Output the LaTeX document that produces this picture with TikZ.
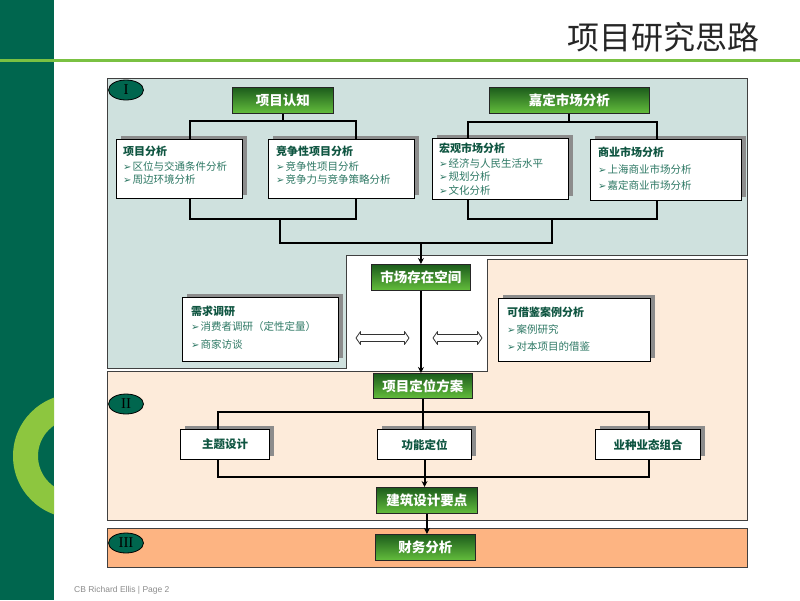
\documentclass[tikz,border=0pt]{standalone}
\usepackage{fontspec}
\setmainfont{Noto Sans CJK SC}
\newfontfamily\symf{DejaVu Sans}
\newfontfamily\latf{Liberation Sans}
\newfontfamily\romf{Liberation Serif}
\usetikzlibrary{arrows.meta,shapes.geometric,shadows}
\definecolor{bandc}{RGB}{0,102,78}
\definecolor{ringc}{RGB}{141,198,63}
\definecolor{linec}{RGB}{122,193,66}
\definecolor{pI}{RGB}{207,225,222}
\definecolor{pII}{RGB}{253,235,218}
\definecolor{pIII}{RGB}{253,180,130}
\definecolor{gdark}{RGB}{28,92,28}
\definecolor{glight}{RGB}{100,190,60}
\definecolor{ttl}{RGB}{15,85,65}
\definecolor{itm}{RGB}{45,120,100}
\newcommand\itmbul{{\symf\fontsize{10}{10}\selectfont ➢}\hspace{1pt}}
\newcommand\hollowdarrow[2]{% #1 left x, #2 right x, at y=338
  \filldraw[darr] (#1,338) -- (#1+4.5,331.5) -- (#1+4.5,334.5) -- (#2-4.5,334.5) -- (#2-4.5,331.5)
   -- (#2,338) -- (#2-4.5,344.5) -- (#2-4.5,341.5) -- (#1+4.5,341.5) -- (#1+4.5,344.5) -- cycle;}
\tikzset{
  panel/.style={draw=black!75, line width=0.9pt},
  gbox/.style={draw=black!85, line width=0.9pt, top color=gdark, bottom color=glight,
    text=white, font=\bfseries\fontsize{13.5}{13.5}\selectfont, inner sep=0, anchor=north west},
  wbox/.style={draw=black, line width=1.1pt, fill=white, inner sep=0, anchor=north west,
    drop shadow={shadow xshift=4pt, shadow yshift=4pt, fill=black!45, opacity=1}},
  wtxt/.style={font=\bfseries\fontsize{11.5}{11.5}\selectfont, text=ttl},
  ttxt/.style={font=\bfseries\fontsize{11}{11}\selectfont, text=ttl, anchor=west, inner sep=0},
  itxt/.style={font=\fontsize{10.5}{10.5}\selectfont, text=itm, anchor=west, inner sep=0},
  oval/.style={ellipse, draw=black, line width=0.8pt, fill=bandc, minimum width=35pt,
    minimum height=20pt, inner sep=0, font=\romf\fontsize{15}{15}\selectfont},
  conn/.style={line width=2pt, black},
  thinc/.style={line width=1.2pt, black},
  arr/.style={-{Stealth[length=6pt,width=6pt]}},
  darr/.style={draw=black!80, fill=white, line width=0.8pt, line join=round}
}
\begin{document}
\begin{tikzpicture}[x=1pt,y=-1pt]
\useasboundingbox (0,0) rectangle (800,600);
\fill[white] (0,0) rectangle (800,600);
% left band and ring
\fill[bandc] (0,0) rectangle (54,600);
\begin{scope}
\clip (0,0) rectangle (54,600);
\fill[ringc, even odd rule] (75,456) circle[radius=62] (75,456) circle[radius=37];
\end{scope}
\fill[linec] (0,58.5) rectangle (800,61.5);
\node[anchor=east, font=\fontsize{32}{32}\selectfont, text=black!85, inner sep=0] (title) at (760,37) {项目研究思路};
\node[anchor=west, font=\latf\fontsize{8.5}{8.5}\selectfont, text=black!45, inner sep=0] (foot) at (74,590) {CB Richard Ellis | Page 2};
% panels
\filldraw[panel, fill=pI] (107,78) -- (747,78) -- (747,255) -- (346,255) -- (346,368) -- (107,368) -- cycle;
\filldraw[panel, fill=pII] (487,259) -- (747,259) -- (747,520) -- (107,520) -- (107,371) -- (487,371) -- cycle;
\filldraw[panel, fill=pIII] (107,528) rectangle (747,567);
\node[oval] (o1) at (126,90) {I};
\node[oval] (o2) at (126,404) {II};
\node[oval] (o3) at (126,543) {III};
% green boxes
\node[gbox, minimum width=101pt, minimum height=26pt] (rz) at (232,87) {项目认知};
\node[gbox, minimum width=160pt, minimum height=26pt] (jd) at (489,87) {嘉定市场分析};
\node[gbox, minimum width=99pt, minimum height=26pt] (scz) at (371,264) {市场存在空间};
\node[gbox, minimum width=99pt, minimum height=25pt] (dw) at (373,373) {项目定位方案};
\node[gbox, minimum width=101pt, minimum height=26pt] (jz) at (376,487) {建筑设计要点};
\node[gbox, minimum width=100pt, minimum height=26pt] (cw) at (375,534) {财务分析};
% white boxes
\node[wbox, minimum width=126pt, minimum height=59pt] (b1) at (116,139) {};
\node[wbox, minimum width=146pt, minimum height=59pt] (b2) at (268,139) {};
\node[wbox, minimum width=136pt, minimum height=61pt] (b3) at (432,138) {};
\node[wbox, minimum width=151pt, minimum height=61pt] (b4) at (590,139) {};
\node[wbox, minimum width=156pt, minimum height=64pt] (b5) at (182,297) {};
\node[wbox, minimum width=152pt, minimum height=63pt] (b6) at (498,298) {};
\node[wbox, minimum width=89pt, minimum height=30pt] (b7) at (180,429) {};
\node[wbox, minimum width=94pt, minimum height=30pt] (b8) at (377,429) {};
\node[wbox, minimum width=105pt, minimum height=30pt] (b9) at (595,429) {};
\node[wtxt] (b7t) at (b7.center) {主题设计};
\node[wtxt] (b8t) at (b8.center) {功能定位};
\node[wtxt] (b9t) at (b9.center) {业种业态组合};
% texts in boxes
\node[ttxt] (b1a) at (123,151) {项目分析};
\node[itxt] (b1b) at (123,166) {\itmbul 区位与交通条件分析};
\node[itxt] (b1c) at (123,180) {\itmbul 周边环境分析};
\node[ttxt] (b2a) at (276,151) {竞争性项目分析};
\node[itxt] (b2b) at (276,166) {\itmbul 竞争性项目分析};
\node[itxt] (b2c) at (276,180) {\itmbul 竞争力与竞争策略分析};
\node[ttxt] (b3a) at (439,148) {宏观市场分析};
\node[itxt] (b3b) at (439,164) {\itmbul 经济与人民生活水平};
\node[itxt] (b3c) at (439,177) {\itmbul 规划分析};
\node[itxt] (b3d) at (439,190) {\itmbul 文化分析};
\node[ttxt] (b4a) at (598,152) {商业市场分析};
\node[itxt] (b4b) at (598,169) {\itmbul 上海商业市场分析};
\node[itxt] (b4c) at (598,185) {\itmbul 嘉定商业市场分析};
\node[ttxt] (b5a) at (191,311) {需求调研};
\node[itxt] (b5b) at (191,327) {\itmbul 消费者调研（定性定量）};
\node[itxt] (b5c) at (191,344) {\itmbul 商家访谈};
\node[ttxt] (b6a) at (507,312) {可借鉴案例分析};
\node[itxt] (b6b) at (507,329) {\itmbul 案例研究};
\node[itxt] (b6c) at (507,346) {\itmbul 对本项目的借鉴};
% connectors top-left
\draw[conn] (rz.south) -- (rz.south |- 0,121) coordinate (j1);
\draw[conn] (b1.north -| 190,0) |- (j1) -| (b2.north -| 356,0);
\draw[conn] (b1.south -| 190,0) |- (356,219) coordinate (j4) -- (b2.south -| 356,0);
% connectors top-right
\draw[conn] (jd.south) -- (jd.south |- 0,122) coordinate (j2);
\draw[conn] (b3.north -| 468,0) |- (j2) -| (b4.north -| 657,0);
\draw[conn] (b3.south -| 468,0) |- (657,219) coordinate (j5) -- (b4.south -| 657,0);
% merge
\coordinate (jl) at (280,219);
\coordinate (jr) at (552,219);
\draw[conn] (jl) |- (jr |- 0,243) -- (jr);
\draw[conn, arr] (scz.north |- 0,243) -- (scz.north);
\draw[conn, arr] (scz.south) -- (scz.south |- dw.north);
% hollow double arrows
\hollowdarrow{356}{409}
\hollowdarrow{433}{482}
% lower section
\draw[thinc] (dw.south) -- (dw.south |- 0,412) coordinate (j3);
\draw[thinc] (b7.north -| 218,0) |- (j3) -| (b9.north -| 649,0);
\draw[thinc] (j3) -- (j3 |- b8.north);
\draw[thinc] (b7.south -| 218,0) |- (649,477) coordinate (j6) -- (b9.south -| 649,0);
\draw[conn, arr] (b8.south) -- (b8.south |- jz.north);
\draw[conn, arr] (jz.south) -- (jz.south |- cw.north);
\end{tikzpicture}
\end{document}
